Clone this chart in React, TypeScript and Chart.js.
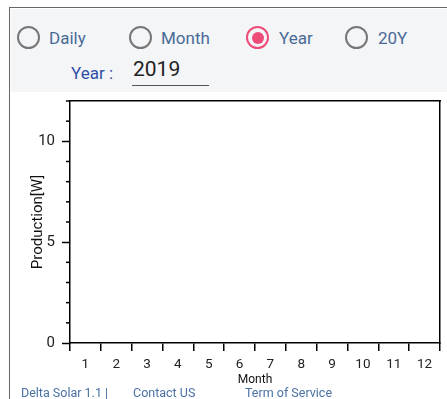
import React, { useEffect, useRef } from "react";
import { Chart, registerables } from "chart.js";

Chart.register(...registerables);

const months = ["1", "2", "3", "4", "5", "6", "7", "8", "9", "10", "11", "12"];
const production = [0, 0, 0, 0, 0, 0, 0, 0, 0, 0, 0, 0];
const yMin = 0;
const yMax = 12;
const yMajorStep = 5;
const periodOptions = ["Daily", "Month", "Year", "20Y"];
const selectedPeriod = "Year";
const yearValue = "2019";
const footerLinks = ["Delta Solar 1.1 |", "Contact US", "Term of Service"];

const FONT = "Roboto, 'Noto Sans', sans-serif";

const minorTicks = {
  id: "minorTicks",
  afterDraw(chart: any) {
    const s = chart.scales.y;
    const ctx = chart.ctx;
    ctx.save();
    ctx.strokeStyle = "#000";
    ctx.lineWidth = 1.5;
    s.ticks.forEach((t: any) => {
      if (t.value % yMajorStep !== 0) {
        const y = s.getPixelForValue(t.value);
        ctx.beginPath();
        ctx.moveTo(s.right - 4, y);
        ctx.lineTo(s.right, y);
        ctx.stroke();
      }
    });
    ctx.restore();
  },
};

function Radio({ label, selected, x, labelX }: any) {
  return (
    <>
      <div
        style={{
          position: "absolute",
          left: x - 12,
          top: 38 - 12,
          width: 19,
          height: 19,
          borderRadius: "50%",
          border: `2.5px solid ${selected ? "#ef4b78" : "#767676"}`,
          boxSizing: "content-box",
        }}
      >
        {selected && (
          <div
            style={{
              position: "absolute",
              left: 3.5,
              top: 3.5,
              width: 12,
              height: 12,
              borderRadius: "50%",
              background: "#ef4b78",
            }}
          />
        )}
      </div>
      <div
        style={{
          position: "absolute",
          left: labelX,
          top: 38 - 11,
          fontSize: 17,
          lineHeight: "22px",
          color: "#4a6a96",
          fontFamily: FONT,
        }}
      >
        {label}
      </div>
    </>
  );
}

export default function App() {
  const ref = useRef<HTMLCanvasElement>(null);

  useEffect(() => {
    if (!ref.current) return;
    const chart = new Chart(ref.current, {
      type: "bar",
      data: {
        labels: months,
        datasets: [
          {
            label: "Production",
            data: production,
            backgroundColor: "#3b7dd8",
            borderWidth: 0,
          },
        ],
      },
      options: {
        animation: false,
        responsive: false,
        devicePixelRatio: 1,
        layout: { padding: { left: 0, top: 101, right: 7, bottom: 0 } },
        plugins: {
          legend: { display: false },
          tooltip: { enabled: false },
        },
        scales: {
          x: {
            type: "category",
            position: "bottom",
            offset: true,
            grid: {
              offset: true,
              drawOnChartArea: false,
              drawTicks: true,
              tickLength: 8,
              color: "#000",
              lineWidth: 1.5,
            },
            border: { display: true, color: "#000", width: 1.5 },
            ticks: {
              font: { size: 13.5, family: FONT },
              color: "#222",
              padding: 6,
              maxRotation: 0,
              autoSkip: false,
            },
            title: {
              display: true,
              text: "Month",
              font: { size: 12, family: FONT },
              color: "#111",
              padding: { top: 0, bottom: 12 },
            },
            afterFit: (s: any) => {
              s.height = 56;
            },
          },
          x2: {
            type: "category",
            position: "top",
            labels: months,
            grid: { display: false },
            ticks: { display: false },
            border: { display: true, color: "#000", width: 1.5 },
            afterFit: (s: any) => {
              s.height = 0;
            },
          },
          y: {
            type: "linear",
            position: "left",
            min: yMin,
            max: yMax,
            ticks: {
              stepSize: 1,
              autoSkip: false,
              font: { size: 15, family: FONT },
              color: "#222",
              padding: 7,
              callback: (v: any) => (Number(v) % yMajorStep === 0 ? String(v) : ""),
            },
            grid: {
              drawOnChartArea: false,
              drawTicks: true,
              tickLength: 8,
              tickWidth: 1.5,
              tickColor: (ctx: any) =>
                ctx.tick && ctx.tick.value % yMajorStep === 0 ? "#000" : "rgba(0,0,0,0)",
            },
            border: { display: true, color: "#000", width: 1.5 },
            title: {
              display: true,
              text: "Production[W]",
              font: { size: 15, family: FONT },
              color: "#111",
              padding: { top: 29, bottom: 0 },
            },
            afterFit: (s: any) => {
              s.width = 70;
            },
          },
          y2: {
            type: "linear",
            position: "right",
            min: yMin,
            max: yMax,
            grid: { display: false },
            ticks: { display: false },
            border: { display: true, color: "#000", width: 1.5 },
            afterFit: (s: any) => {
              s.width = 0;
            },
          },
        },
      },
      plugins: [minorTicks],
    } as any);
    return () => chart.destroy();
  }, []);

  const radioX = [28.5, 140.5, 258, 357];
  const labelX = [49, 161, 279, 378];
  const footerX = [21, 133, 245];

  return (
    <div
      style={{
        position: "absolute",
        left: 0,
        top: 0,
        width: 447,
        height: 399,
        overflow: "hidden",
        background: "#fff",
        fontFamily: FONT,
      }}
    >
      <div
        style={{
          position: "absolute",
          left: 9,
          top: 7,
          width: 438,
          height: 392,
          borderTop: "1.5px solid #666",
          borderLeft: "1.5px solid #666",
          boxSizing: "border-box",
        }}
      />
      <div
        style={{
          position: "absolute",
          left: 10.5,
          top: 8.5,
          width: 437,
          height: 83.5,
          background: "#f4f5f7",
        }}
      />
      {periodOptions.map((p, i) => (
        <Radio key={p} label={p} selected={p === selectedPeriod} x={radioX[i]} labelX={labelX[i]} />
      ))}
      <div
        style={{
          position: "absolute",
          left: 71,
          top: 62,
          fontSize: 17,
          lineHeight: "22px",
          color: "#2f4fa6",
        }}
      >
        Year :
      </div>
      <div
        style={{
          position: "absolute",
          left: 132,
          top: 56,
          width: 77,
          height: 30,
          borderBottom: "1px solid #555",
          fontSize: 21,
          lineHeight: "26px",
          color: "#222",
          paddingLeft: 1,
          boxSizing: "border-box",
        }}
      >
        {yearValue}
      </div>
      <canvas
        ref={ref}
        width={447}
        height={399}
        style={{ position: "absolute", left: 0, top: 0, width: 447, height: 399 }}
      />
      {footerLinks.map((f, i) => (
        <div
          key={f}
          style={{
            position: "absolute",
            left: footerX[i],
            top: 385,
            fontSize: 12.5,
            lineHeight: "16px",
            color: "#4a72a5",
            whiteSpace: "nowrap",
          }}
        >
          {f}
        </div>
      ))}
    </div>
  );
}
